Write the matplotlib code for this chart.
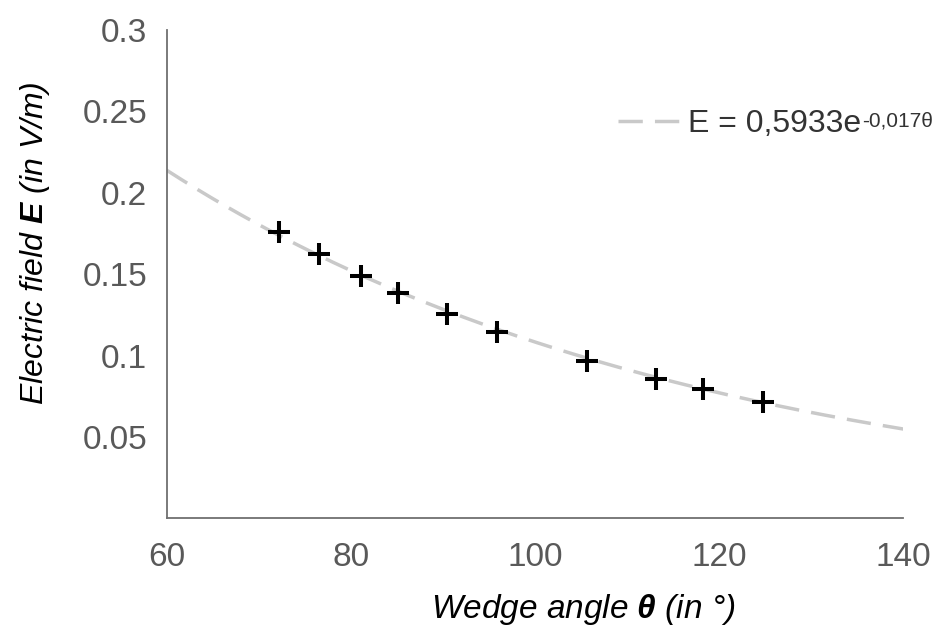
import numpy as np
import matplotlib
matplotlib.use("Agg")
import matplotlib.pyplot as plt

# measured points (wedge angle in degrees, field in V/m)
theta = [72.2, 76.6, 81.1, 85.1, 90.4, 95.9, 105.7, 113.1, 118.2, 124.8]
field = [0.1761, 0.1624, 0.1489, 0.1386, 0.1254, 0.1147, 0.0969, 0.0854, 0.0793, 0.0717]

# exponential trend line E = a * exp(b * theta)
fit_a = 0.5933
fit_b = -0.017
fit_label = "E = 0,5933e"
fit_exponent = "-0,017θ"

x_ticks = [60, 80, 100, 120, 140]
y_ticks = [0.05, 0.1, 0.15, 0.2, 0.25, 0.3]
y_tick_labels = ["0.05", "0.1", "0.15", "0.2", "0.25", "0.3"]

plt.rcParams["font.family"] = ["Liberation Sans", "DejaVu Sans"]
plt.rcParams["mathtext.fontset"] = "custom"
# rm is used for punctuation inside \mathit, so keep it italic for the axis labels
plt.rcParams["mathtext.rm"] = "Liberation Sans:italic"
plt.rcParams["mathtext.it"] = "Liberation Sans:italic"
plt.rcParams["mathtext.bf"] = "Liberation Sans:italic:bold"
plt.rcParams["mathtext.default"] = "it"

fig = plt.figure(figsize=(9.36, 6.4), dpi=100)
ax = fig.add_axes([0.178, 0.19, 0.787, 0.763])

xs = np.linspace(60, 140, 200)
ax.plot(xs, fit_a * np.exp(fit_b * xs), color="#c9c9c9", lw=2.5,
        dashes=(7, 3.5), label=fit_label, zorder=2)
ax.plot(theta, field, linestyle="none", marker="+", markersize=16,
        markeredgewidth=2.9, color="black", zorder=3)

ax.set_xlim(60, 140)
ax.set_ylim(0, 0.3)
ax.set_xticks(x_ticks)
ax.set_yticks(y_ticks)
ax.set_yticklabels(y_tick_labels)
ax.tick_params(length=0, labelsize=24, labelcolor="#595959")
ax.tick_params(axis="x", pad=17)
ax.tick_params(axis="y", pad=14)

for side in ["top", "right"]:
    ax.spines[side].set_visible(False)
for side in ["left", "bottom"]:
    ax.spines[side].set_color("#707070")
    ax.spines[side].set_linewidth(1.3)

fig.text(0.623, 0.047, r"$\mathit{Wedge\ angle\ }\mathbf{θ}\mathit{\ (in\ °)}$",
         ha="center", va="center", fontsize=24)
fig.text(0.037, 0.62, r"$\mathit{Electric\ field\ }\mathbf{E}\mathit{\ (in\ V/m)}$",
         ha="center", va="center", rotation=90, fontsize=23)

leg = fig.legend(loc="center left", bbox_to_anchor=(0.63, 0.806), frameon=False,
                 fontsize=23, handlelength=1.9, handletextpad=0.28)
leg_text = leg.get_texts()[0]
leg_text.set_color("#333333")

# superscript of the trend equation, placed right after the legend text
fig.canvas.draw()
bb = leg_text.get_window_extent().transformed(fig.transFigure.inverted())
fig.text(bb.x1 + 0.001, bb.y1 - 0.004, fit_exponent, ha="left", va="top",
         fontsize=15, color="#333333")

fig.savefig("out.png", dpi=100)
